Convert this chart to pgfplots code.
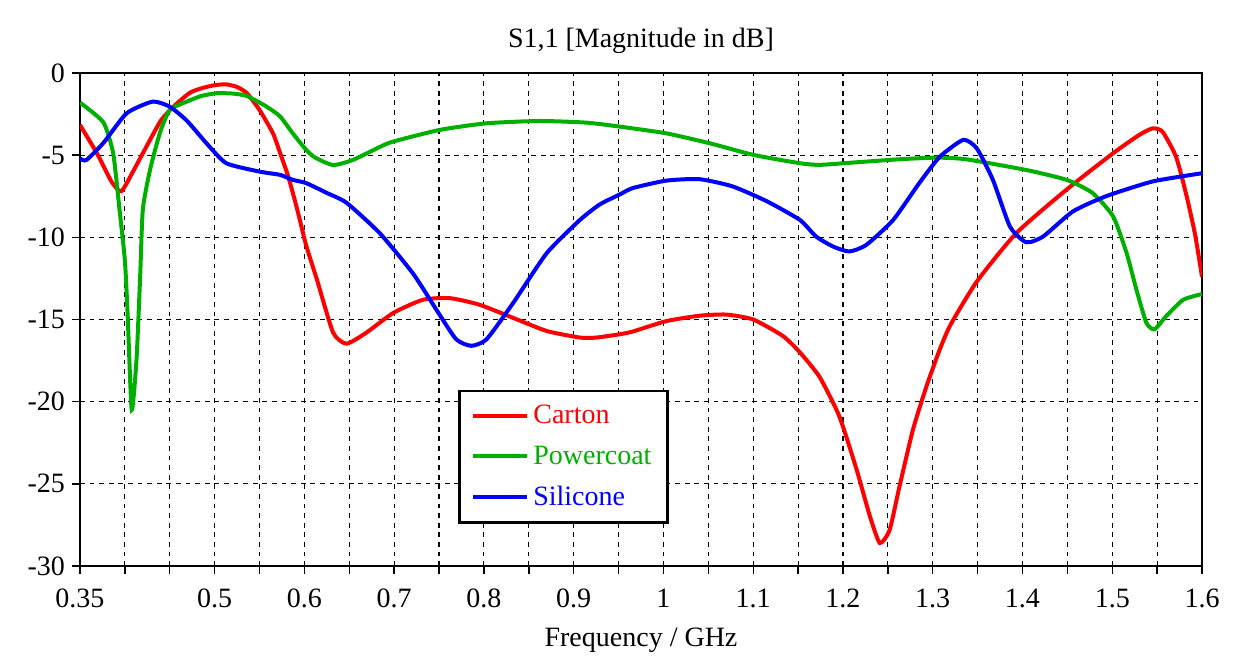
\documentclass[border=0pt]{standalone}
\usepackage{pgfplots}
\pgfplotsset{compat=1.18}
\usepackage{fontspec}
\setmainfont{Liberation Serif}

\definecolor{cred}{RGB}{255,0,0}
\definecolor{cgreen}{RGB}{0,176,0}
\definecolor{cblue}{RGB}{0,0,255}

\begin{document}
\begin{tikzpicture}
\begin{axis}[
    scale only axis,
    width=561pt, height=246.5pt,
    xmin=0.35, xmax=1.6,
    ymin=-30, ymax=0,
    xtick={0.35,0.5,0.6,0.7,0.8,0.9,1,1.1,1.2,1.3,1.4,1.5,1.6},
    minor xtick={0.4,0.45,0.55,0.65,0.75,0.85,0.95,1.05,1.15,1.25,1.35,1.45,1.55},
    ytick={-30,-25,-20,-15,-10,-5,0},
    xtick pos=bottom, ytick pos=left,
    tick align=outside,
    major tick length=4pt, minor tick length=4pt,
    tick style={black, line width=0.7pt},
    grid=both,
    major grid style={black, line width=0.55pt, dash pattern=on 2.4pt off 2.4pt},
    minor grid style={black, line width=0.55pt, dash pattern=on 2.4pt off 2.4pt},
    axis line style={black, line width=0.9pt},
    /pgf/number format/assume math mode=true,
    ticklabel style={font=\fontsize{14}{16}\selectfont},
    xticklabel style={yshift=-4pt},
    title={S1,1 [Magnitude in dB]},
    title style={font=\fontsize{14}{16}\selectfont, yshift=0pt},
    xlabel={Frequency / GHz},
    xlabel style={font=\fontsize{14}{16}\selectfont, yshift=-3pt},
    legend style={at={(0.337,0.357)}, anchor=north west,
        draw=black, line width=1.2pt,
        font=\fontsize{14}{16}\selectfont,
        inner xsep=6pt, inner ysep=5pt,
        row sep=5.5pt,
        /tikz/every even column/.append style={column sep=0pt}},
    legend cell align=left,
    legend image code/.code={\draw[line width=2pt] (0pt,0pt) -- (27pt,0pt);},
    every axis plot/.append style={line width=2pt, smooth, tension=0.35},
]
\addplot[cred] coordinates {
(0.350,-3.16) (0.369,-4.9) (0.385,-6.6) (0.396,-7.2) (0.410,-5.9)
(0.424,-4.48) (0.440,-2.9) (0.455,-2.0) (0.4725,-1.2) (0.486,-0.92)
(0.500,-0.74) (0.513,-0.69) (0.525,-0.85) (0.536,-1.23) (0.550,-2.25)
(0.565,-3.67) (0.573,-4.88) (0.582,-6.3) (0.592,-8.3) (0.602,-10.5)
(0.614,-12.58) (0.632,-15.8) (0.647,-16.47) (0.669,-15.8) (0.699,-14.6)
(0.732,-13.8) (0.762,-13.7) (0.795,-14.1) (0.8325,-14.9) (0.870,-15.7)
(0.907,-16.1) (0.925,-16.1) (0.951,-15.9) (0.966,-15.73) (1.003,-15.1)
(1.040,-14.77) (1.070,-14.7) (1.100,-15.0) (1.133,-16.0) (1.152,-17.0)
(1.174,-18.5) (1.196,-20.9) (1.215,-24.1) (1.230,-26.97) (1.241,-28.6)
(1.252,-27.8) (1.263,-25.15) (1.278,-21.7) (1.293,-19.07) (1.308,-16.8)
(1.320,-15.3) (1.349,-12.7) (1.393,-9.75) (1.449,-7.1) (1.501,-4.88)
(1.530,-3.77) (1.545,-3.37) (1.556,-3.57) (1.571,-5.09) (1.582,-7.3)
(1.592,-9.75) (1.600,-12.4)
};
\addlegendentry[text=cred]{Carton}
\addplot[cgreen] coordinates {
(0.350,-1.8) (0.376,-3.0) (0.387,-4.9) (0.394,-8.3) (0.400,-11.4)
(0.403,-14.6) (0.4076,-20.5) (0.413,-17.4) (0.417,-12.4) (0.420,-8.3)
(0.428,-5.9) (0.439,-3.65) (0.450,-2.25) (0.469,-1.74) (0.485,-1.4)
(0.502,-1.23) (0.520,-1.25) (0.536,-1.4) (0.558,-2.05) (0.573,-2.65)
(0.587,-3.67) (0.602,-4.68) (0.612,-5.15) (0.632,-5.6) (0.654,-5.29)
(0.684,-4.5) (0.699,-4.17) (0.751,-3.46) (0.803,-3.06) (0.862,-2.92)
(0.914,-3.02) (0.951,-3.26) (1.003,-3.67) (1.052,-4.28) (1.100,-4.98)
(1.152,-5.49) (1.174,-5.59) (1.211,-5.45) (1.263,-5.25) (1.304,-5.15)
(1.337,-5.25) (1.404,-5.9) (1.449,-6.5) (1.478,-7.3) (1.501,-8.73)
(1.516,-10.96) (1.527,-13.2) (1.538,-15.2) (1.547,-15.6) (1.560,-14.8)
(1.579,-13.8) (1.600,-13.45)
};
\addlegendentry[text=cgreen]{Powercoat}
\addplot[cblue] coordinates {
(0.350,-5.2) (0.357,-5.3) (0.376,-4.26) (0.402,-2.45) (0.431,-1.74)
(0.450,-2.05) (0.469,-2.9) (0.491,-4.28) (0.513,-5.49) (0.550,-6.0)
(0.573,-6.2) (0.587,-6.5) (0.602,-6.7) (0.625,-7.3) (0.647,-7.9)
(0.684,-9.75) (0.721,-12.2) (0.747,-14.4) (0.769,-16.2) (0.786,-16.6)
(0.803,-16.2) (0.8325,-14.0) (0.870,-10.96) (0.907,-8.94) (0.929,-8.0)
(0.951,-7.4) (0.966,-7.0) (1.003,-6.55) (1.040,-6.46) (1.077,-6.9)
(1.115,-7.8) (1.152,-8.94) (1.170,-9.95) (1.189,-10.56) (1.207,-10.86)
(1.226,-10.46) (1.256,-8.94) (1.285,-6.7) (1.308,-5.09) (1.334,-4.07)
(1.349,-4.58) (1.367,-6.5) (1.386,-9.34) (1.404,-10.3) (1.423,-9.95)
(1.456,-8.43) (1.493,-7.5) (1.545,-6.6) (1.600,-6.1)
};
\addlegendentry[text=cblue]{Silicone}
\end{axis}
\path ([shift={(-40pt,-43.5pt)}]current axis.south west) rectangle ([shift={(25pt,36.5pt)}]current axis.north east);
\end{tikzpicture}
\end{document}
